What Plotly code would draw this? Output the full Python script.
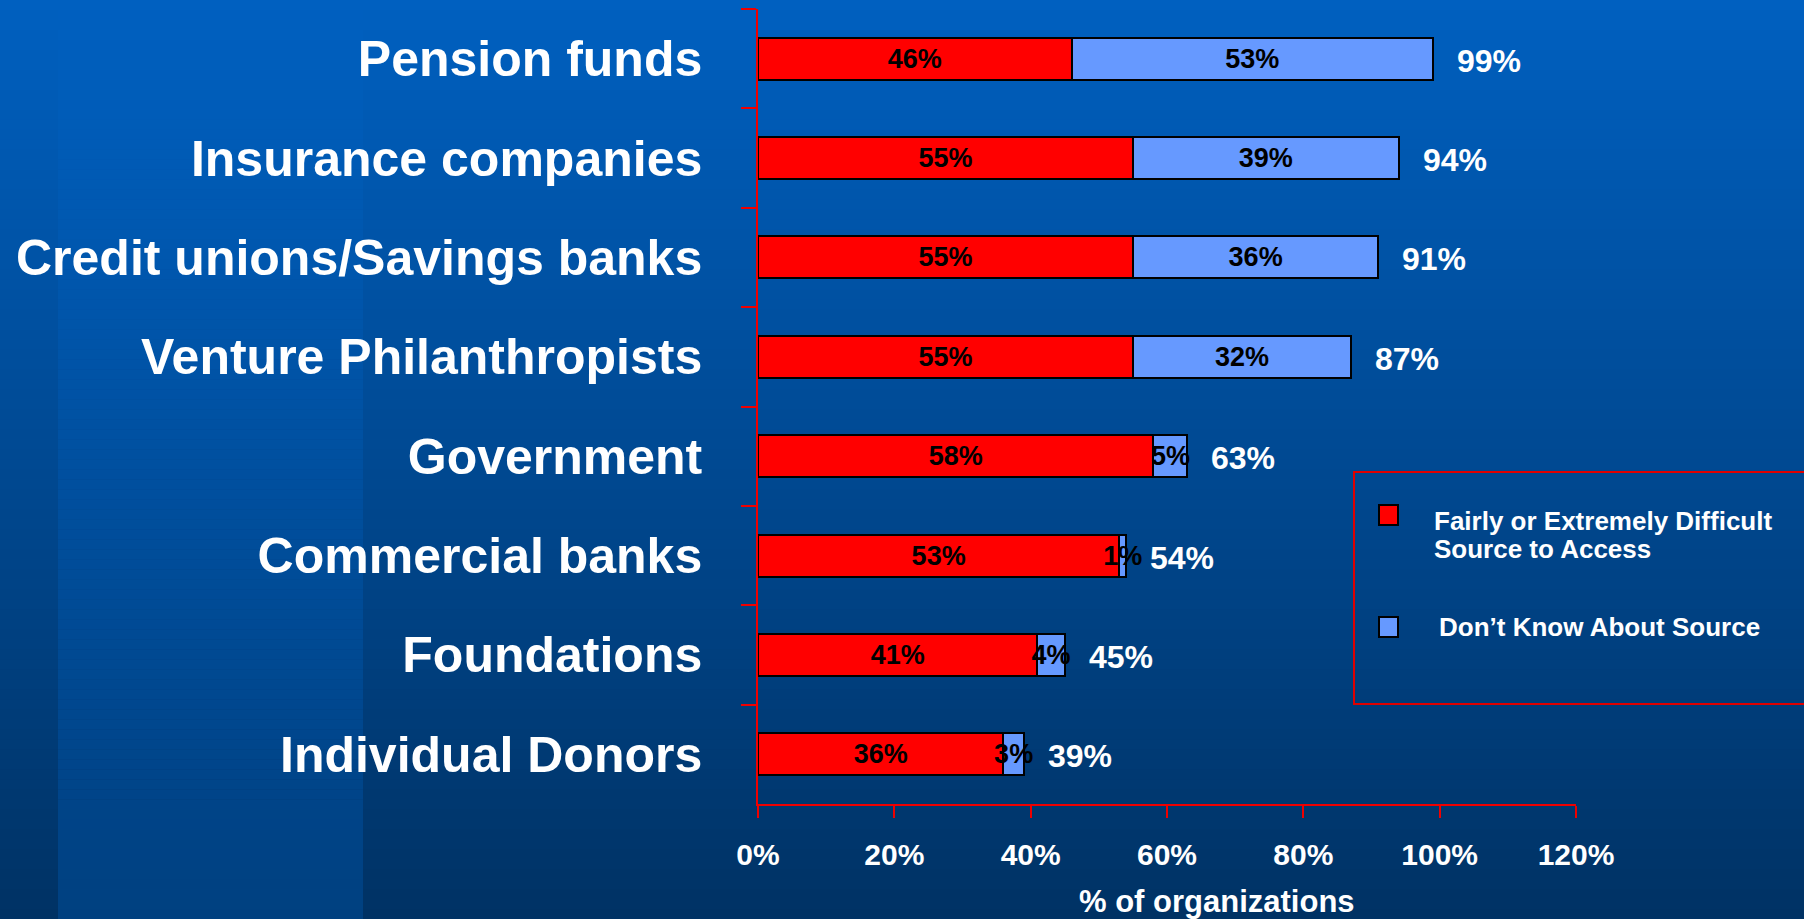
import plotly.graph_objects as go

# Survey data: share of organizations per funding source
categories = [
    "Pension funds",
    "Insurance companies",
    "Credit unions/Savings banks",
    "Venture Philanthropists",
    "Government",
    "Commercial banks",
    "Foundations",
    "Individual Donors",
]
difficult = [46, 55, 55, 55, 58, 53, 41, 36]
dont_know = [53, 39, 36, 32, 5, 1, 4, 3]
totals = [99, 94, 91, 87, 63, 54, 45, 39]
x_tick_values = [0, 20, 40, 60, 80, 100, 120]
x_tick_labels = ["0%", "20%", "40%", "60%", "80%", "100%", "120%"]
series_names = ["Fairly or Extremely Difficult Source to Access", "Don’t Know About Source"]

W, H = 1804, 919
FONT = "Liberation Sans, Arial, Helvetica, sans-serif"
RED = "#FF0000"
BLUE = "#6699FF"
AXIS_RED = "#F00000"


def px_x(p):
    return p / W


def px_y(p):
    return 1 - p / H


fig = go.Figure()

fig.add_trace(go.Bar(
    y=categories, x=difficult, orientation="h", name=series_names[0],
    marker=dict(color=RED, line=dict(color="black", width=2)),
    text=[f"{v}%" for v in difficult], textposition="inside",
    insidetextanchor="middle", textangle=0,
    textfont=dict(family=FONT, size=27, color="black", weight="bold"),
    showlegend=False, hoverinfo="skip",
))
fig.add_trace(go.Bar(
    y=categories, x=dont_know, orientation="h", name=series_names[1],
    marker=dict(color=BLUE, line=dict(color="black", width=2)),
    text=[f"{v}%" for v in dont_know], textposition="inside",
    insidetextanchor="middle", textangle=0,
    textfont=dict(family=FONT, size=27, color="black", weight="bold"),
    showlegend=False, hoverinfo="skip",
))

# background: vertical gradient plus a lighter vertical stripe on the left
shapes = []
n_bands = 92
top_main, bot_main = (0, 96, 192), (0, 50, 100)
top_strip, bot_strip = (0, 96, 192), (0, 64, 128)


def mix(a, b, t):
    return "rgb(%d,%d,%d)" % tuple(round(a[i] + (b[i] - a[i]) * t) for i in range(3))


for i in range(n_bands):
    t = (i + 0.5) / n_bands
    y0 = 1 - i / n_bands
    y1 = 1 - (i + 1) / n_bands
    shapes.append(dict(type="rect", xref="paper", yref="paper", x0=0, x1=1,
                       y0=y1 - 0.001, y1=y0, fillcolor=mix(top_main, bot_main, t),
                       line=dict(width=0), layer="below"))
    shapes.append(dict(type="rect", xref="paper", yref="paper", x0=px_x(58), x1=px_x(363),
                       y0=y1 - 0.001, y1=y0, fillcolor=mix(top_strip, bot_strip, t),
                       line=dict(width=0), layer="below"))

# legend box
shapes.append(dict(type="rect", xref="paper", yref="paper",
                   x0=px_x(1354), x1=1.02, y0=px_y(704), y1=px_y(472),
                   line=dict(color="#E00000", width=2), fillcolor="rgba(0,0,0,0)"))
for (ytop, col) in [(505, RED), (617, BLUE)]:
    shapes.append(dict(type="rect", xref="paper", yref="paper",
                       x0=px_x(1379), x1=px_x(1398), y0=px_y(ytop + 20), y1=px_y(ytop),
                       line=dict(color="black", width=2), fillcolor=col))

annotations = []
white_bold = dict(family=FONT, color="white", weight="bold")

# totals to the right of each bar
for cat, tot in zip(categories, totals):
    annotations.append(dict(x=tot, y=cat, xref="x", yref="y", text=f"{tot}%",
                            showarrow=False, xanchor="left", yanchor="middle",
                            xshift=22, yshift=-2, font=dict(size=32, **white_bold)))

# legend text
annotations.append(dict(xref="paper", yref="paper", x=px_x(1432), y=px_y(521),
                        text="Fairly or Extremely Difficult", showarrow=False,
                        xanchor="left", yanchor="middle", font=dict(size=26, **white_bold)))
annotations.append(dict(xref="paper", yref="paper", x=px_x(1432), y=px_y(549),
                        text="Source to Access", showarrow=False,
                        xanchor="left", yanchor="middle", font=dict(size=26, **white_bold)))
annotations.append(dict(xref="paper", yref="paper", x=px_x(1437), y=px_y(627),
                        text="Don’t Know About Source", showarrow=False,
                        xanchor="left", yanchor="middle", font=dict(size=26, **white_bold)))

# x-axis title
annotations.append(dict(xref="paper", yref="paper", x=px_x(1217), y=px_y(901),
                        text="% of organizations", showarrow=False,
                        xanchor="center", yanchor="middle", font=dict(size=31, **white_bold)))

fig.update_layout(
    width=W, height=H,
    margin=dict(l=0, r=0, t=0, b=0, autoexpand=False),
    paper_bgcolor="#003366",
    plot_bgcolor="rgba(0,0,0,0)",
    barmode="stack",
    bargap=0.577,
    uniformtext=dict(mode="show", minsize=27),
    shapes=shapes,
    annotations=annotations,
    xaxis=dict(
        domain=[px_x(758), px_x(1576)],
        range=[0, 120],
        tickvals=x_tick_values, ticktext=x_tick_labels,
        showline=True, linecolor=AXIS_RED, linewidth=1.5,
        ticks="outside", ticklen=12, tickcolor=AXIS_RED, tickwidth=1.5,
        showgrid=False, zeroline=False, automargin=False,
        tickfont=dict(size=30, **white_bold),
        ticklabelstandoff=11,
    ),
    yaxis=dict(
        domain=[px_y(804), px_y(9)],
        type="category",
        categoryorder="array", categoryarray=categories,
        autorange="reversed",
        tickson="boundaries",
        showline=True, linecolor=AXIS_RED, linewidth=1.5,
        ticks="outside", ticklen=15, tickcolor=AXIS_RED, tickwidth=1.5,
        showgrid=False, zeroline=False, automargin=False,
        tickfont=dict(size=50, **white_bold),
        ticklabelstandoff=44,
    ),
)

fig.write_html("out.html")
